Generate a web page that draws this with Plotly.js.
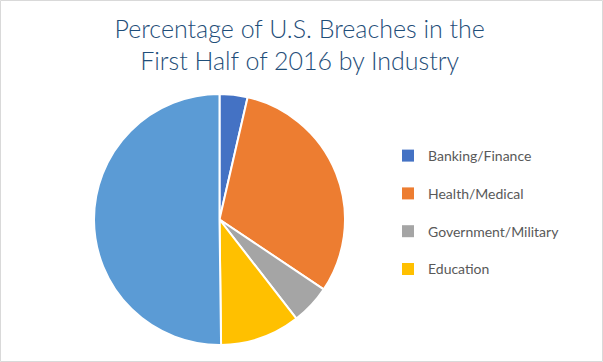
<!DOCTYPE html>
<html>
<head>
<meta charset="utf-8">
<script src="https://cdn.plot.ly/plotly-3.0.1.min.js"></script>
<style>
html,body{margin:0;padding:0;background:#fff;}
#chart{width:603px;height:362px;}
</style>
</head>
<body>
<div id="chart"></div>
<script>
// Data
const legendLabels = ["Banking/Finance", "Health/Medical", "Government/Military", "Education"];
const sliceLabels = ["Banking/Finance", "Health/Medical", "Government/Military", "Education", "Business"];
const sliceValues = [3.6, 30.8, 5.1, 10.3, 50.2];
const sliceColors = ["#4472C4", "#ED7D31", "#A5A5A5", "#FFC000", "#5B9BD5"];
const chartTitle = "Percentage of U.S. Breaches in the<br>First Half of 2016 by Industry";

const W = 603, H = 362;
const cx = 219.5, cy = 219.5, r = 125.5;
const dom = {x: [(cx - r) / W, (cx + r) / W], y: [(H - cy - r) / H, (H - cy + r) / H]};
const tiny = {x: [cx / W, (cx + 0.05) / W], y: [(H - cy) / H, (H - cy + 0.05) / H]};

const traces = [];
// legend-only tiny pies (hidden behind main pie)
legendLabels.forEach((lab, i) => {
  traces.push({
    type: 'pie',
    labels: [lab],
    values: [sliceValues[i]],
    marker: {colors: [sliceColors[i]], line: {width: 0}},
    textinfo: 'none',
    hoverinfo: 'skip',
    domain: tiny,
    legendgroup: 'g' + i,
    showlegend: true,
    sort: false
  });
});
// main pie
traces.push({
  type: 'pie',
  labels: sliceLabels,
  values: sliceValues,
  marker: {colors: sliceColors, line: {color: '#ffffff', width: 2}},
  textinfo: 'none',
  sort: false,
  direction: 'clockwise',
  rotation: 0,
  domain: dom,
  showlegend: false,
  hoverinfo: 'label+percent'
});

const layout = {
  width: W, height: H,
  margin: {l: 0, r: 0, t: 0, b: 0},
  paper_bgcolor: '#ffffff',
  title: {
    text: chartTitle,
    font: {family: 'Lato, sans-serif', size: 25, color: '#1F4E79', weight: 300},
    x: 0.497, xanchor: 'center', y: 0.896, yanchor: 'top'
  },
  showlegend: true,
  legend: {
    x: 388 / W, xanchor: 'left',
    y: (H - 140) / H, yanchor: 'top',
    traceorder: 'grouped',
    tracegroupgap: 16.6,
    font: {family: 'Lato, sans-serif', size: 14, color: '#595959'},
    bgcolor: 'rgba(0,0,0,0)',
    itemwidth: 30
  },
  shapes: [{
    type: 'rect', xref: 'paper', yref: 'paper',
    x0: 0.5 / W, x1: 1 - 0.5 / W, y0: 0.5 / H, y1: 1 - 0.5 / H,
    line: {color: '#D9D9D9', width: 1}, fillcolor: 'rgba(0,0,0,0)'
  }]
};

Plotly.newPlot('chart', traces, layout, {displayModeBar: false, staticPlot: true});
</script>
</body>
</html>
